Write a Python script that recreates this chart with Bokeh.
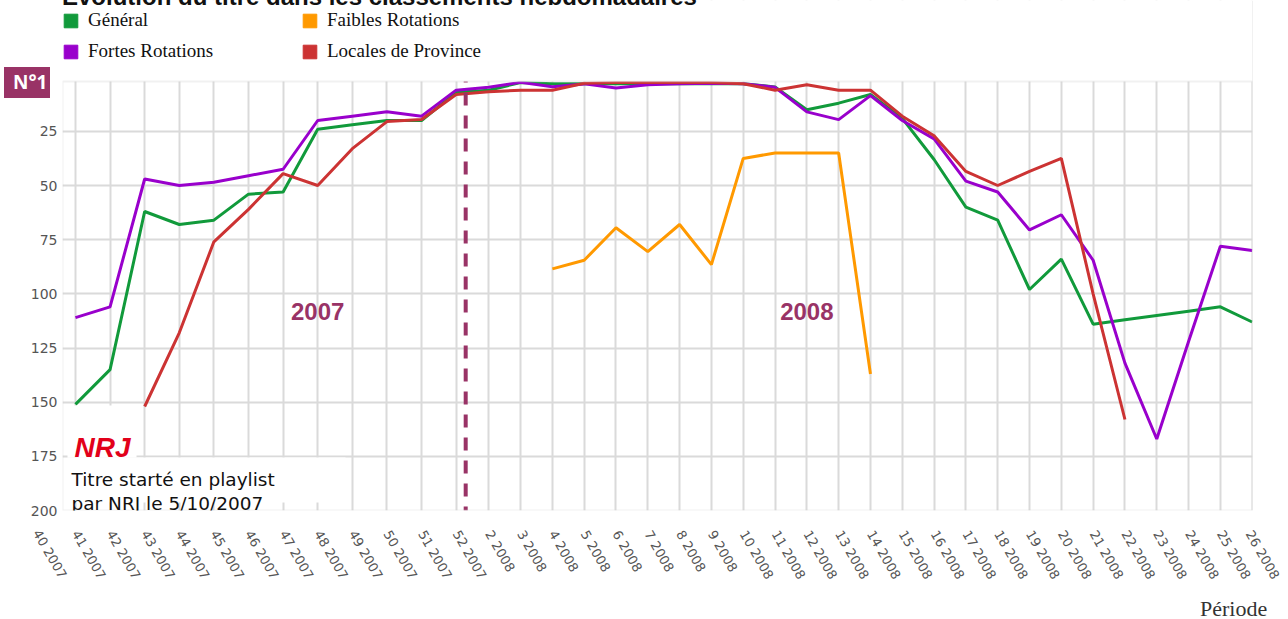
import math
import numpy as np
from bokeh.plotting import figure
from bokeh.models import (Range1d, FixedTicker, Span, Label, Legend, LegendItem,
                          BoxAnnotation, ColumnDataSource, CustomJSTickFormatter, Div)
from bokeh.layouts import column
from bokeh.embed import file_html
from bokeh.resources import INLINE

NAN = float("nan")

# ---------------- data ----------------
weeks_2007 = [41, 42, 43, 44, 45, 46, 47, 48, 49, 50, 51, 52]
weeks_2008 = [2, 3, 4, 5, 6, 7, 8, 9, 10, 11, 12, 13, 14, 15, 16, 17, 18, 19, 20, 21, 22, 23, 24, 25, 26]
period_labels = [f"{w}  2007" for w in weeks_2007] + [f"{w}  2008" for w in weeks_2008]
first_label = "40  2007"

general = [151, 135, 62, 68, 66, 54, 53, 24, 22, 20, 20, 7,
           6, 2.5, 3, 3, 3, 3, 3, 3, 3, 4.5, 15, 12, 8, 19, 38, 60, 66, 98, 84, 114, 112, 110, 108, 106, 113]
fortes = [111, 106, 47, 50, 48.5, 45.5, 42.5, 20, 18, 16, 18, 6,
          4.7, 2.4, 4.4, 3.1, 5, 3.5, 3, 2.8, 3, 4.7, 16, 19.6, 8.5, 20, 28.5, 48, 53, 70.5, 63.5, 84.5, 132, 167, 122, 78, 80]
faibles = [NAN] * 12 + [NAN, NAN, 88.5, 84.5, 69.5, 80.5, 68, 86.5, 37.5, 35, 35, 35, 137,
                        NAN, NAN, NAN, NAN, NAN, NAN, NAN, NAN, NAN, NAN, NAN, NAN]
locales = [NAN, NAN, 152, 118, 76, 61, 44.5, 50, 33, 20.5, 19.5, 8,
           6.7, 6, 6, 2.8, 2.5, 2.5, 2.5, 2.5, 3, 6, 3.5, 6, 6, 18, 27, 43.5, 50, 43.5, 37.5, 100, 158,
           NAN, NAN, NAN, NAN]

series_names = ["Général", "Faibles Rotations", "Fortes Rotations", "Locales de Province"]
y_ticks = [25, 50, 75, 100, 125, 150, 175, 200]
title_text = "Évolution du titre dans les classements hebdomadaires"
x_title = "Période"

# ---------------- layout helpers ----------------
GREEN, ORANGE, PURPLE, RED = "#119a3b", "#ff9900", "#9900cc", "#cc3333"
MAROON = "#993366"
STEP_2007 = 1.088                # the 2007 part of the axis is slightly wider per week
POS_52 = 0.975
xpos = [POS_52 - (52 - w) * STEP_2007 for w in weeks_2007] + [float(w) for w in weeks_2008]
x40 = POS_52 - (52 - 40) * STEP_2007

W, H = 1284, 617
F_LEFT, F_RIGHT, F_BOTTOM = 62, 1252, 510      # frame edges (px)
PLOT_TOP = 81                                   # top of the ranked area (px)
X0, X1 = -11.40, 26.01
Y_BOTTOM, Y_RANK_TOP = 200, 2
PX_PER_RANK = (F_BOTTOM - PLOT_TOP) / (Y_BOTTOM - Y_RANK_TOP)
Y_TOP = Y_RANK_TOP - PLOT_TOP / PX_PER_RANK     # frame extends to the top of the canvas
XLAB_STANDOFF = 21


def dx(px):
    return X0 + (px - F_LEFT) * (X1 - X0) / (F_RIGHT - F_LEFT)


def dy(py):
    return Y_RANK_TOP + (py - PLOT_TOP) / PX_PER_RANK


def sx(x):
    return F_LEFT + (x - X0) * (F_RIGHT - F_LEFT) / (X1 - X0)


p = figure(width=W, height=H, x_range=Range1d(X0, X1), y_range=Range1d(Y_BOTTOM, Y_TOP),
           output_backend="svg", toolbar_location=None,
           min_border_left=F_LEFT, min_border_right=W - F_RIGHT, min_border_top=0,
           min_border_bottom=H - F_BOTTOM,
           background_fill_color="white", border_fill_color="white", outline_line_color=None)

# axes
p.xaxis.ticker = FixedTicker(ticks=xpos)
p.xaxis.formatter = CustomJSTickFormatter(args=dict(xs=xpos, labels=period_labels), code="""
let best = 0, d = 1e9;
for (let i = 0; i < xs.length; i++) { const e = Math.abs(xs[i] - tick); if (e < d) { d = e; best = i; } }
return labels[best];
""")
p.xaxis.major_label_orientation = -math.pi / 3
p.yaxis.ticker = FixedTicker(ticks=y_ticks)
for ax in (p.xaxis[0], p.yaxis[0]):
    ax.axis_line_color = None
    ax.major_tick_line_color = None
    ax.minor_tick_line_color = None
    ax.major_tick_out = 0
    ax.major_tick_in = 0
    ax.minor_tick_out = 0
    ax.major_label_text_font = "DejaVu Sans"
    ax.major_label_text_color = "#555555"
p.xaxis.major_label_text_font_size = "13px"
p.yaxis.major_label_text_font_size = "14px"
p.xaxis.major_label_standoff = XLAB_STANDOFF
p.yaxis.major_label_standoff = 5

for g in (p.xgrid[0], p.ygrid[0]):
    g.grid_line_color = "#dadada"
    g.grid_line_width = 2

# lines
src = ColumnDataSource(dict(x=np.array(xpos), general=np.array(general, dtype=float),
                            fortes=np.array(fortes, dtype=float), faibles=np.array(faibles, dtype=float),
                            locales=np.array(locales, dtype=float)))
p.line("x", "general", source=src, line_color=GREEN, line_width=3)
p.line("x", "fortes", source=src, line_color=PURPLE, line_width=3)
p.line("x", "faibles", source=src, line_color=ORANGE, line_width=3)
p.line("x", "locales", source=src, line_color=RED, line_width=3)

# year divider
p.add_layout(Span(location=xpos[11] + 0.3, dimension="height", line_color=MAROON,
                  line_width=4, line_dash="13 10"))

# mask above the ranked area + plot border
p.add_layout(BoxAnnotation(left=X0, right=X1, top=Y_TOP, bottom=Y_RANK_TOP,
                           fill_color="white", fill_alpha=1, line_color=None))
p.add_layout(BoxAnnotation(left=X0, right=X1, top=Y_RANK_TOP, bottom=Y_BOTTOM,
                           fill_alpha=0, line_color="#d2d2d2", line_width=2))

# year labels
for txt, idx in (("2007", weeks_2007.index(48)), ("2008", len(weeks_2007) + weeks_2008.index(12))):
    p.add_layout(Label(x=xpos[idx], y=108, text=txt, text_align="center", text_baseline="middle",
                       text_font="Liberation Sans", text_font_style="bold", text_font_size="24px",
                       text_color=MAROON))

# note box (white background over the grid)
p.add_layout(BoxAnnotation(left=dx(67), right=dx(136), top=dy(405), bottom=dy(457),
                           fill_color="white", fill_alpha=1, line_color=None))
p.add_layout(BoxAnnotation(left=dx(67), right=dx(345), top=dy(457), bottom=dy(502),
                           fill_color="white", fill_alpha=1, line_color=None))
p.add_layout(Label(x=dx(74), y=dy(447), text="NRJ", text_font="Liberation Sans",
                   text_font_style="bold italic", text_font_size="28px", text_color="#e2001a",
                   text_baseline="alphabetic"))
p.add_layout(Label(x=dx(71), y=dy(479), text="Titre starté en playlist", text_font="DejaVu Sans",
                   text_font_size="18.5px", text_color="#111111", text_baseline="alphabetic"))
p.add_layout(Label(x=dx(71), y=dy(503), text="par NRJ le 5/10/2007", text_font="DejaVu Sans",
                   text_font_size="18.5px", text_color="#111111", text_baseline="alphabetic"))

# legend with square swatches (legend-only stub renderers, nothing drawn in the plot)
swatches = {}
for name, col in zip(series_names, (GREEN, ORANGE, PURPLE, RED)):
    swatches[name] = p.quad(left=[NAN], right=[NAN], top=[NAN], bottom=[NAN],
                            fill_color=col, line_color=col)
legend = Legend(items=[LegendItem(label=n, renderers=[swatches[n]]) for n in
                       ("Général", "Fortes Rotations", "Faibles Rotations", "Locales de Province")],
                orientation="vertical", ncols=2, location=(0, F_BOTTOM - 13 - 49),
                glyph_width=17, glyph_height=17, label_height=20, label_width=204,
                label_standoff=9, spacing=9, padding=0, margin=0,
                border_line_color=None, background_fill_alpha=0,
                label_text_font="Liberation Serif", label_text_font_size="19px",
                label_text_color="#111111")
p.add_layout(legend)

# decorations outside the plotting frame (HTML overlays)
title_div = Div(text=title_text, margin=0,
                styles={"position": "absolute", "top": "-15px", "left": "62px",
                        "font": "bold 24px 'Liberation Sans'", "line-height": "24px",
                        "white-space": "nowrap", "color": "#111111", "z-index": "2"})
badge_div = Div(text="N°1", margin=0,
                styles={"position": "absolute", "top": "67px", "left": "4px", "width": "46px",
                        "height": "31px", "padding-left": "9px", "background": MAROON,
                        "color": "white", "font": "bold 19px 'Open Sans'", "line-height": "31px",
                        "z-index": "2"})
w40_div = Div(text=first_label, margin=0,
              styles={"position": "absolute", "top": f"{F_BOTTOM + XLAB_STANDOFF - 7}px",
                      "left": f"{sx(x40) - 4:.1f}px", "font": "13px 'DejaVu Sans'",
                      "line-height": "14px", "white-space": "nowrap", "color": "#555555",
                      "transform": "rotate(60deg)", "transform-origin": "0 50%", "z-index": "2"})
xtitle_div = Div(text=x_title, margin=0,
                 styles={"position": "absolute", "top": "599px", "left": "1200px",
                         "font": "22px 'Liberation Sans Narrow'", "line-height": "20px",
                         "white-space": "nowrap", "color": "#333333", "z-index": "2"})

layout = column(p, title_div, badge_div, w40_div, xtitle_div)
open("out.html", "w").write(file_html(layout, INLINE))
